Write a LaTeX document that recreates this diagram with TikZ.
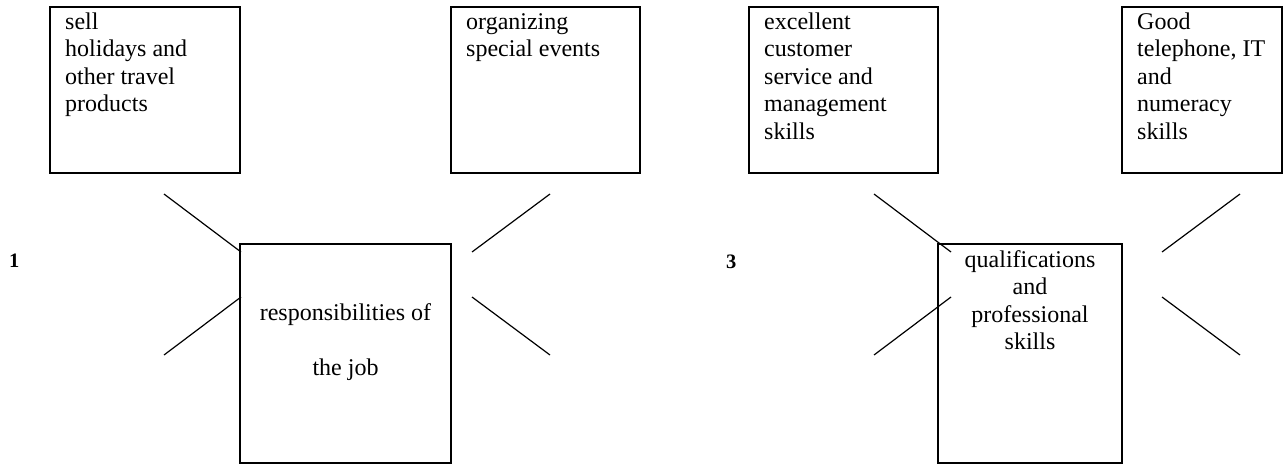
\documentclass[tikz,border=0pt]{standalone}
\usepackage{fontspec}
\setmainfont{Liberation Serif}
\newcommand{\firststrut}{\rule{0pt}{18pt}}
\begin{document}
\begin{tikzpicture}[x=1pt,y=-1pt,
  box/.style={draw,line width=1.5pt,rectangle,inner sep=0pt,outer sep=0pt},
  boxtext/.style={inner sep=0pt,anchor=north west,align=left,
    font=\fontsize{24}{27.5}\selectfont},
  hubtext/.style={inner sep=0pt,anchor=north,align=center,
    font=\fontsize{24}{27.5}\selectfont},
  tick/.style={line width=1.2pt},
  num/.style={inner sep=0pt,anchor=base west,font=\fontsize{20.5}{24}\selectfont\bfseries}]
\useasboundingbox (0,0) rectangle (1283,464);

% ---- left cluster: responsibilities of the job ----
\node[box,minimum width=190pt,minimum height=166pt] (sell) at (145,90) {};
\node[box,minimum width=189pt,minimum height=166pt] (events) at (545.5,90) {};
\node[box,minimum width=211pt,minimum height=219pt] (resp) at (345.5,353.5) {};

\node[boxtext] (sellt) at ([xshift=15pt,yshift=-4pt]sell.north west)
  {\firststrut sell\\holidays and\\other travel\\products};
\node[boxtext] (eventst) at ([xshift=15pt,yshift=-4pt]events.north west)
  {\firststrut organizing\\special events};
\node[hubtext] (respt) at ([yshift=-58pt]resp.north)
  {\firststrut responsibilities of\\[27.5pt]the job};

\node[num] (n1) at (9,267) {1};

\coordinate (a1) at (164,194); \coordinate (a2) at (241,252);
\coordinate (b1) at (164,355); \coordinate (b2) at (241,297);
\coordinate (c1) at (472,252); \coordinate (c2) at (550,194);
\coordinate (d1) at (472,297); \coordinate (d2) at (550,355);
\draw[tick] (a1) -- (a2);
\draw[tick] (b1) -- (b2);
\draw[tick] (c1) -- (c2);
\draw[tick] (d1) -- (d2);

% ---- right cluster: qualifications and professional skills ----
\node[box,minimum width=189pt,minimum height=166pt] (service) at (843.5,90) {};
\node[box,minimum width=160pt,minimum height=166pt] (phone) at (1202,90) {};
\node[box,minimum width=184pt,minimum height=219pt] (qual) at (1030,353.5) {};

\node[boxtext] (servicet) at ([xshift=15pt,yshift=-4pt]service.north west)
  {\firststrut excellent\\customer\\service and\\management\\skills};
\node[boxtext] (phonet) at ([xshift=15pt,yshift=-4pt]phone.north west)
  {\firststrut Good\\telephone, IT\\and\\numeracy\\skills};
\node[hubtext] (qualt) at ([yshift=-5pt]qual.north)
  {\firststrut qualifications\\and\\professional\\skills};

\node[num] (n3) at (726,268) {3};

\coordinate (e1) at (874,194);  \coordinate (e2) at (951,252);
\coordinate (f1) at (874,355);  \coordinate (f2) at (951,297);
\coordinate (g1) at (1162,252); \coordinate (g2) at (1240,194);
\coordinate (h1) at (1162,297); \coordinate (h2) at (1240,355);
\draw[tick] (e1) -- (e2);
\draw[tick] (f1) -- (f2);
\draw[tick] (g1) -- (g2);
\draw[tick] (h1) -- (h2);
\end{tikzpicture}
\end{document}
